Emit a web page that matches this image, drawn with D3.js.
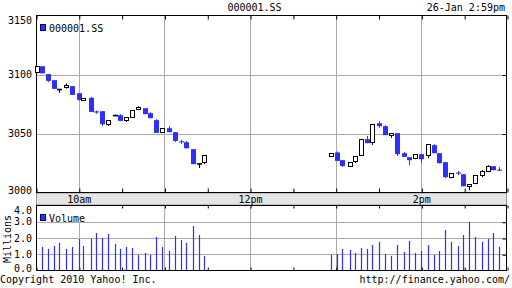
<!DOCTYPE html>
<html><head><meta charset="utf-8">
<script src="https://cdn.jsdelivr.net/npm/d3@7"></script>
<style>
html,body{margin:0;padding:0;background:#fff;}
svg text{font-family:"DejaVu Sans Mono",monospace;font-size:10px;fill:#000;}
</style></head>
<body>
<svg id="c" width="512" height="288"></svg>
<script>
// ---- DATA ----
// time = minutes after 9:30 open
const amTimes = [1.0,4.4,8.6,12.8,16.3,21.2,25.4,29.9,33.1,38.7,42.2,46.5,50.7,55.6,59.1,63.3,67.5,71.7,76.6,80.1,84.3,88.5,93.4,97.6,101.4,105.3,110.2,114.4,117.9];
const amOpen  = [3101,3107,3100.3,3095.2,3087.0,3088.4,3090.1,3084.2,3077.8,3080.2,3068.5,3068.9,3057.3,3065.0,3065.5,3060.7,3063.2,3070.0,3071.4,3067.2,3061.3,3050.5,3054.5,3051.1,3043.2,3042.6,3036.7,3024.0,3024.8];
const amHigh  = [3107,3107,3100.3,3095.2,3087.5,3092.4,3090.1,3084.2,3080.0,3081.0,3069.4,3068.9,3061.3,3066.1,3066.4,3063.8,3069.7,3073.1,3071.4,3068.0,3062.1,3054.5,3056.2,3051.1,3044.6,3043.5,3036.7,3024.4,3031.6];
const amLow   = [3101,3101,3093.7,3087.8,3084.4,3088.0,3082.7,3077.6,3077.8,3068.3,3066.8,3056.4,3056.4,3065.0,3060.7,3059.8,3063.2,3070.0,3066.4,3063.0,3050.5,3050.5,3051.1,3042.9,3041.2,3037.5,3024.0,3020.8,3024.0];
const amClose = [3107,3101,3094.6,3087.8,3087.5,3091.2,3082.7,3078.5,3080.0,3068.3,3068.0,3057.9,3061.3,3065.3,3060.7,3063.8,3069.7,3072.3,3066.4,3063.0,3050.5,3054.5,3051.1,3043.7,3042.7,3037.5,3024.0,3024.4,3031.6];
const amVol   = [null,1.45,1.33,1.51,1.70,1.33,1.45,1.94,1.51,1.94,2.31,2.00,2.25,1.64,1.33,1.45,1.39,0.96,1.08,0.96,2.06,1.45,1.21,2.13,1.88,1.70,2.74,2.19,0.90];

const pmTimes = [206.9,211.1,214.6,220.2,223.7,227.9,232.1,235.6,240.5,244.7,248.9,253.1,258.0,261.5,265.7,270.0,274.9,279.1,282.6,286.8,291.0,295.9,299.4,303.6,307.8,312.7,316.9,320.4,324.6];
const pmOpen  = [3030.2,3033.9,3027.4,3021.7,3025.9,3031.0,3045.2,3042.0,3058.7,3056.2,3047.7,3050.3,3033.3,3029.9,3028.2,3032.5,3030.8,3040.1,3033.3,3025.7,3012.1,3016.7,3015.5,3004.5,3007.0,3013.8,3017.2,3022.3,3019.2];
const pmHigh  = [3033.3,3034.7,3027.4,3025.7,3030.8,3045.2,3048.0,3057.9,3060.4,3057.0,3050.3,3050.3,3034.2,3029.9,3032.5,3032.5,3040.9,3040.9,3033.3,3025.7,3016.4,3018.1,3015.5,3007.0,3014.7,3018.9,3023.1,3022.3,3021.4];
const pmLow   = [3030.2,3026.8,3021.7,3021.7,3025.1,3031.0,3041.8,3040.3,3054.9,3048.6,3046.3,3031.0,3030.2,3023.1,3028.2,3025.4,3029.1,3033.3,3024.8,3012.1,3012.1,3014.7,3005.3,3001.9,3007.0,3013.0,3017.2,3018.9,3018.1];
const pmClose = [3033.3,3026.8,3022.5,3025.7,3030.8,3045.2,3041.8,3057.9,3056.2,3048.6,3050.3,3032.5,3030.2,3027.4,3032.5,3028.2,3040.9,3033.3,3024.8,3013.0,3016.4,3016.2,3005.3,3007.0,3014.7,3018.1,3022.3,3018.9,3018.8];
const pmVol   = [0.96,1.02,1.33,1.27,1.08,1.39,1.33,1.57,1.76,1.02,0.90,1.57,1.14,1.82,1.08,1.20,1.57,0.96,1.20,2.49,1.76,1.51,2.18,2.98,2.06,1.76,1.94,2.31,1.45];

const priceTicks = [3000,3050,3100,3150];
const volTicks = [0,1,2,3,4];
const timeTicks = [0,30,60,90,120,150,180,210,240,270,300,330];
const gridTimes = [30,90,150,210,270];
const timeLabelVals = [30,150,270];
const timeLabels = ["10am","12pm","2pm"];
const symbol = "000001.SS";
const stamp = "26-Jan 2:59pm";

// ---- BUILD ----
const rows = [];
function add(t,o,h,l,c,v){ for(let i=0;i<t.length;i++) rows.push({t:t[i],o:o[i],h:h[i],l:l[i],c:c[i],v:v[i]}); }
add(amTimes,amOpen,amHigh,amLow,amClose,amVol);
add(pmTimes,pmOpen,pmHigh,pmLow,pmClose,pmVol);

const BLUE = "#2e2eff", GRID = "#aaaaaa";
const L = 36.5, R = 506.5, T = 15.5, B = 192.5, VT = 205.5, VB = 270.5;
const x = d3.scaleLinear().domain([0,330]).range([36,507]);
const y = d3.scaleLinear().domain([3000,3150]).range([B,T]);
const yv = d3.scaleLinear().domain([0,4]).range([VB,VT]);
const px = v => Math.round(v)+0.5;

const svg = d3.select("#c");

// header
svg.append("text").attr("x",254.5).attr("y",11).attr("text-anchor","middle").text(symbol);
svg.append("text").attr("x",505).attr("y",11).attr("text-anchor","end").text(stamp);

// gridlines main
const g = svg.append("g");
g.selectAll(".hg").data(priceTicks.slice(1,-1)).join("line")
  .attr("x1",L).attr("x2",R).attr("y1",d=>px(y(d))).attr("y2",d=>px(y(d))).attr("stroke",GRID);
g.selectAll(".vg").data(gridTimes).join("line")
  .attr("x1",d=>px(x(d))).attr("x2",d=>px(x(d))).attr("y1",T).attr("y2",B).attr("stroke",GRID);
// gridlines volume
g.append("g").selectAll("line").data(volTicks.slice(1,-1)).join("line")
  .attr("x1",L).attr("x2",R).attr("y1",d=>px(yv(d))).attr("y2",d=>px(yv(d))).attr("stroke",GRID);
g.append("g").selectAll("line").data(gridTimes).join("line")
  .attr("x1",d=>px(x(d))).attr("x2",d=>px(x(d))).attr("y1",VT).attr("y2",VB).attr("stroke",GRID);

// time band
svg.append("rect").attr("x",L).attr("y",193).attr("width",R-L).attr("height",12)
  .attr("fill","#e4e4e4").attr("stroke","#999");

// ticks via d3 axes (inward)
function tickAxis(axis, tx, ty){
  const a = svg.append("g").attr("transform",`translate(${tx},${ty})`).call(axis);
  a.select(".domain").remove(); a.selectAll("text").remove();
  a.selectAll("line").attr("stroke","#000");
  return a;
}
const xs = d3.scaleLinear().domain([0,330]).range([36.5,507.5]);
tickAxis(d3.axisBottom(x).tickValues(timeTicks).tickSize(4), 0.5, T);
tickAxis(d3.axisTop(x).tickValues(timeTicks).tickSize(4), 0.5, B);
tickAxis(d3.axisBottom(x).tickValues(timeTicks).tickSize(3), 0.5, VT);
tickAxis(d3.axisTop(x).tickValues(timeTicks).tickSize(3), 0.5, VB);
tickAxis(d3.axisRight(y).tickValues(priceTicks.slice(1,-1)).tickSize(4), R-4, 0.5);
tickAxis(d3.axisRight(yv).tickValues(volTicks.slice(1,-1)).tickSize(4), R-4, 0.5);

// time labels
const ta = svg.append("g").attr("transform",`translate(0,192)`)
  .call(d3.axisBottom(x).tickValues(timeLabelVals).tickFormat((d,i)=>timeLabels[i]).tickSize(0).tickPadding(1));
ta.select(".domain").remove();
ta.selectAll("text").attr("font-family",null).attr("font-size",null).attr("dy",null).attr("y",11);

// price labels
const pa = svg.append("g").attr("transform","translate(32,0)")
  .call(d3.axisLeft(y).tickValues(priceTicks).tickFormat(d3.format("d")).tickSize(0).tickPadding(0));
pa.select(".domain").remove();
pa.attr("font-family",null).attr("font-size",null);
pa.selectAll(".tick").attr("transform",d=>`translate(0,${Math.max(T+4.5,Math.min(B-2.5,y(d)))})`);
pa.selectAll("text").attr("dy","0.36em");

const va = svg.append("g").attr("transform","translate(32,0)")
  .call(d3.axisLeft(yv).tickValues(volTicks).tickFormat(d3.format(".1f")).tickSize(0).tickPadding(0));
va.select(".domain").remove();
va.attr("font-family",null).attr("font-size",null);
va.selectAll(".tick").attr("transform",d=>`translate(0,${Math.max(VT+4.5,Math.min(VB-2.2,yv(d)))})`);
va.selectAll("text").attr("dy","0.36em");

svg.append("text").attr("transform","translate(11,239) rotate(-90)").attr("text-anchor","middle").text("Millions");

// volume legend background + legend
svg.append("rect").attr("x",37).attr("y",206).attr("width",50).attr("height",16).attr("fill","#fff");
svg.append("rect").attr("x",40.5).attr("y",214.5).attr("width",5).attr("height",6).attr("fill",BLUE).attr("stroke","#00007a");
svg.append("text").attr("x",49).attr("y",222).text("Volume");
svg.append("rect").attr("x",40.5).attr("y",24.5).attr("width",5).attr("height",6).attr("fill",BLUE).attr("stroke","#00007a");
svg.append("text").attr("x",49).attr("y",32).text(symbol);

// volume bars
svg.append("g").selectAll("line").data(rows.filter(d=>d.v!=null)).join("line")
  .attr("x1",d=>Math.round(x(d.t))+0.5).attr("x2",d=>Math.round(x(d.t))+0.5)
  .attr("y1",yv(0)).attr("y2",d=>yv(d.v)).attr("stroke",BLUE).attr("stroke-width",1.2);

// frames
svg.append("rect").attr("x",L).attr("y",T).attr("width",R-L).attr("height",B-T).attr("fill","none").attr("stroke","#000");
svg.append("rect").attr("x",L).attr("y",VT).attr("width",R-L).attr("height",VB-VT).attr("fill","none").attr("stroke","#000");

// candles
const cg = svg.append("g");
rows.forEach(d=>{
  const cx = Math.round(x(d.t));
  const up = d.c >= d.o;
  const col = up ? "#000" : BLUE;
  const yo = y(d.o), yc = y(d.c);
  cg.append("line").attr("x1",cx+0.5).attr("x2",cx+0.5).attr("y1",y(d.h)).attr("y2",y(d.l)).attr("stroke",col);
  const top = Math.min(yo,yc), h = Math.abs(yo-yc);
  if (h < 2) {
    cg.append("line").attr("x1",cx-2).attr("x2",cx+3).attr("y1",(yo+yc)/2).attr("y2",(yo+yc)/2)
      .attr("stroke",col).attr("stroke-width", up?1.6:1.1);
  } else if (up) {
    cg.append("rect").attr("x",cx-1.5).attr("y",Math.round(top)+0.5).attr("width",4).attr("height",Math.max(1,Math.round(h)-1))
      .attr("fill","#fff").attr("stroke","#000");
  } else {
    cg.append("rect").attr("x",cx-2).attr("y",top).attr("width",5).attr("height",h).attr("fill",BLUE);
  }
});

// footer
svg.append("text").attr("x",0).attr("y",283).text("Copyright 2010 Yahoo! Inc.");
svg.append("text").attr("x",510).attr("y",283).attr("text-anchor","end").text("http://finance.yahoo.com/");
</script>
</body></html>
